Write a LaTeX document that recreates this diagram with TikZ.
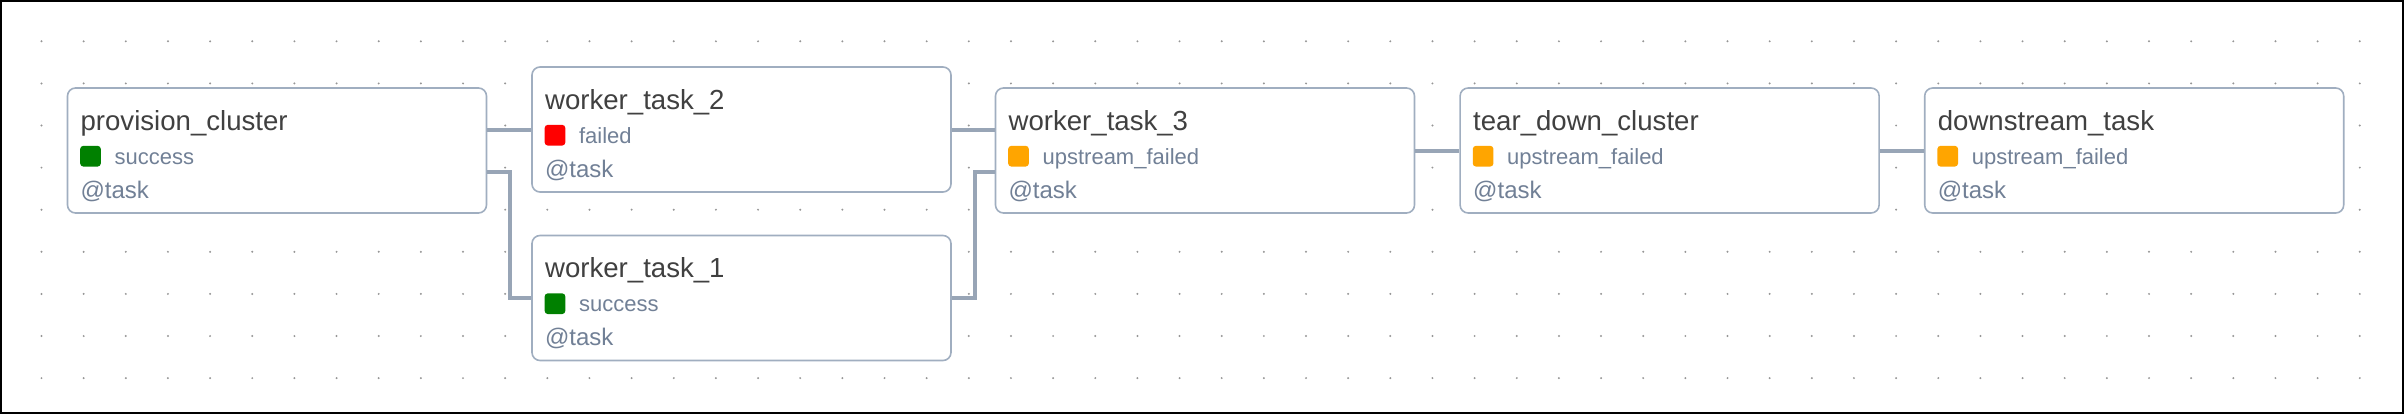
\documentclass[tikz,border=0pt]{standalone}
\usepackage{fontspec}
\setmainfont{Liberation Sans}
\usetikzlibrary{positioning,calc}
\definecolor{edgegray}{RGB}{160,174,192}
\definecolor{titlegray}{RGB}{64,64,64}
\definecolor{slategray}{RGB}{113,128,150}
\definecolor{okgreen}{RGB}{0,128,0}
\definecolor{failred}{RGB}{255,0,0}
\definecolor{uporange}{RGB}{255,165,0}
\definecolor{dotgray}{RGB}{150,150,150}

\begin{document}
\begin{tikzpicture}[x=0.5pt, y=0.5pt,
    node distance=22pt,
    taskbox/.style={rectangle, draw=edgegray, fill=white, line width=0.8pt, rounded corners=4pt, minimum width=209.5pt, minimum height=62.5pt, inner sep=0pt},
    tasktitle/.style={anchor=base west, inner sep=0pt, text=titlegray, font=\fontsize{13.8pt}{16pt}\selectfont},
    taskstate/.style={anchor=base west, inner sep=0pt, text=slategray, font=\fontsize{11pt}{13pt}\selectfont},
    taskdeco/.style={anchor=base west, inner sep=0pt, text=slategray, font=\fontsize{12pt}{14pt}\selectfont},
    link/.style={draw=edgegray!95!black, line width=2pt}
  ]
  \useasboundingbox (0,0) rectangle (2404,414);
  % dot grid behind the graph
  \foreach \i in {0,...,55}
    \foreach \j in {0,...,8}
      \fill[dotgray] (41.5+42.15*\i, 372.7-42.1*\j) circle (1.1);
  \draw[line width=1pt] (1,1) rectangle (2403,413);

  \node[taskbox] (prov) at (277,263.5) {};
  \node[taskbox] (wt2) at (741.5,284.5) {};
  \node[taskbox] (wt1) at (741.5,116) {};
  \node[taskbox] (wt3) at (1205,263.5) {};
  \node[taskbox, right=of wt3] (tear) {};
  \node[taskbox, right=of tear] (down) {};

  % title, state and decorator of each task
  \foreach \n/\t/\s/\c in {prov/provision\_cluster/success/okgreen,
      wt2/worker\_task\_2/failed/failred,
      wt1/worker\_task\_1/success/okgreen,
      wt3/worker\_task\_3/upstream\_failed/uporange,
      tear/tear\_down\_cluster/upstream\_failed/uporange,
      down/downstream\_task/upstream\_failed/uporange} {
    \node[tasktitle] (\n-title) at ([shift={(6.75pt,-21.5pt)}]\n.north west) {\t};
    \fill[\c, rounded corners=1.5pt] ([shift={(6.75pt,-29.35pt)}]\n.north west) rectangle ++(10.3pt,-10.3pt);
    \node[taskstate] (\n-state) at ([shift={(23.75pt,-38.5pt)}]\n.north west) {\s};
    \node[taskdeco] (\n-deco) at ([shift={(6.75pt,-55.5pt)}]\n.north west) {@task};
  }

  \draw[link] ([yshift=10.5pt]prov.east) -- (wt2.west);
  \draw[link] ([yshift=-10.5pt]prov.east) -- ++(11.5pt,0) |- (wt1.west);
  \draw[link] (wt2.east) -- ([yshift=10.5pt]wt3.west);
  \draw[link] (wt1.east) -- ++(11.5pt,0) |- ([yshift=-10.5pt]wt3.west);
  \draw[link] (wt3) -- (tear);
  \draw[link] (tear) -- (down);
\end{tikzpicture}
\end{document}
